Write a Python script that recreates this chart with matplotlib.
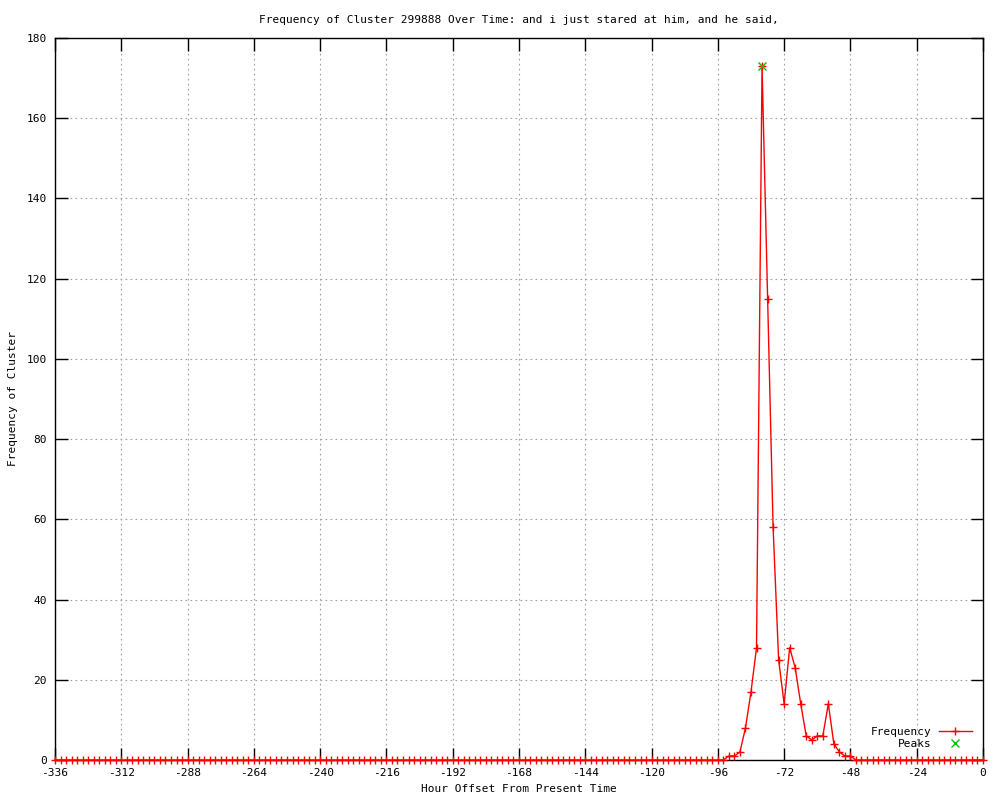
import numpy as np
import matplotlib
matplotlib.use("Agg")
import matplotlib.pyplot as plt

# Hour offsets, every 2 hours over two weeks
hours = np.arange(-336, 1, 2)

# non-zero frequencies (hour -> count)
burst_hours = [-92, -90, -88, -86, -84, -82, -80, -78, -76, -74, -72, -70, -68,
               -66, -64, -62, -60, -58, -56, -54, -52, -50, -48]
burst_counts = [1, 1, 2, 8, 17, 28, 173, 115, 58, 25, 14, 28, 23,
                14, 6, 5, 6, 6, 14, 4, 2, 1, 1]

peak_hours = [-80]
peak_counts = [173]

freq = np.zeros(len(hours))
for h, c in zip(burst_hours, burst_counts):
    freq[list(hours).index(h)] = c

xticks = list(range(-336, 1, 24))
yticks = list(range(0, 181, 20))

plt.rcParams['font.family'] = 'DejaVu Sans Mono'
plt.rcParams['font.size'] = 8
plt.rcParams['axes.unicode_minus'] = False

fig = plt.figure(figsize=(10, 8), dpi=100)
ax = fig.add_axes([0.055, 0.05, 0.928, 0.9025])

ax.plot(hours, freq, color='red', lw=1, marker='+', ms=6, mew=1,
        label='Frequency', clip_on=False, zorder=3)
ax.plot(peak_hours, peak_counts, ls='none', color='#00c000', marker='x',
        ms=6, mew=1, label='Peaks', clip_on=False, zorder=4)

ax.set_xlim(-336, 0)
ax.set_ylim(0, 180)
ax.set_xticks(xticks)
ax.set_yticks(yticks)
ax.tick_params(direction='in', length=9, width=1, top=True, right=True,
               labelsize=8, pad=6)
ax.grid(True, color='#a0a0a0', ls=(0, (1.5, 3)), lw=0.8)
for s in ax.spines.values():
    s.set_linewidth(1)

ax.set_title('Frequency of Cluster 299888 Over Time: and i just stared at him, and he said,',
             fontsize=8, pad=11)
ax.set_xlabel('Hour Offset From Present Time', fontsize=8, labelpad=4)
ax.set_ylabel('Frequency of Cluster', fontsize=8, labelpad=6)

ax.legend(loc='lower right', frameon=False, markerfirst=False, fontsize=8,
          handlelength=3, borderaxespad=0.6, labelspacing=0.2, handletextpad=0.6)

fig.savefig('out.png', dpi=100)
